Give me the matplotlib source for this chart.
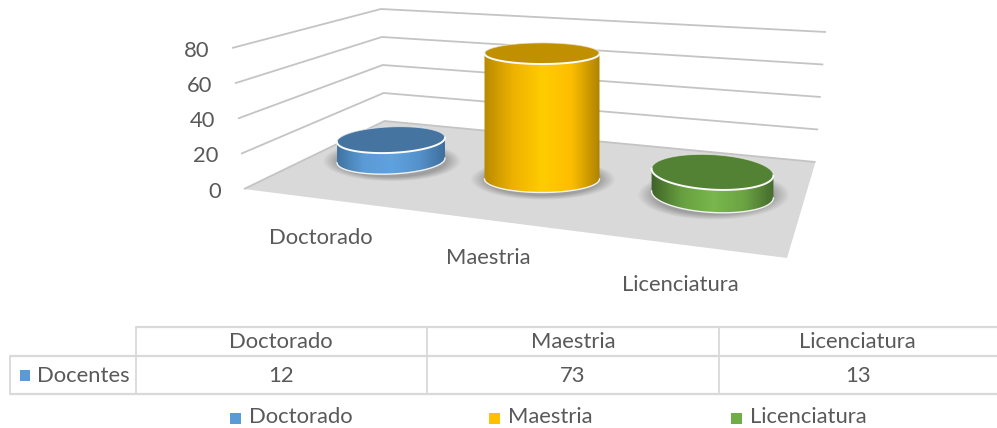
import numpy as np
import matplotlib
matplotlib.use("Agg")
import matplotlib.pyplot as plt
from matplotlib.patches import PathPatch, Polygon, Rectangle
from matplotlib.path import Path
from matplotlib.colors import LinearSegmentedColormap

categories = ["Doctorado", "Maestria", "Licenciatura"]
values = [12, 73, 13]
series_name = "Docentes"
y_ticks = [0, 20, 40, 60, 80]

FONT = "Lato"
FS = 15.8
TXT = "#595959"
GRID = "#c4c4c4"
LINE = "#d9d9d9"
PX_PER_UNIT = 1.72

# wall / floor corner positions (pixels) at value 0 and value 80
L0, L80 = np.array([244., 189.]), np.array([232., 48.])
B0, B80 = np.array([384.5, 121.]), np.array([381., 9.])
R0, R80 = np.array([815.5, 162.]), np.array([826., 32.])
FR = np.array([787., 258.])

# per-category drawing style: base centre x, y, half width, half depth, tilt in degrees
geom = [(391, 160.5, 54, 13.5, -2.5), (542, 179, 57.5, 13.5, 0.0), (712.5, 194.5, 61, 18, 3.3)]
side_cols = [["#3f71a0", "#5b9bd5", "#5fa2e0", "#5592cb", "#3c6c9a"],
             ["#b98a00", "#eeb200", "#ffcc00", "#fdbe00", "#ab8000"],
             ["#3e6228", "#68a040", "#78b84c", "#6ba343", "#42672a"]]
top_cols = ["#44749f", "#c09000", "#548235"]
swatch = ["#5b9bd5", "#ffc000", "#70ad47"]

fig = plt.figure(figsize=(9.97, 4.28), dpi=100)
ax = fig.add_axes([0, 0, 1, 1])
ax.set_xlim(0, 997)
ax.set_ylim(428, 0)
ax.axis("off")


def lerp(a, b, v):
    return a + (b - a) * v / 80.0


def arc(cx, cy, a, b, phi, t):
    c, s = np.cos(np.radians(phi)), np.sin(np.radians(phi))
    return np.c_[cx + a * np.cos(t) * c - b * np.sin(t) * s,
                 cy + a * np.cos(t) * s + b * np.sin(t) * c]


# floor
ax.add_patch(Polygon([L0, B0, R0, FR], closed=True, fc="#d9d9d9", ec="none", zorder=1))

# gridlines + tick labels
for v in y_ticks:
    pts = np.array([lerp(L0, L80, v), lerp(B0, B80, v), lerp(R0, R80, v)])
    ax.plot(pts[:, 0], pts[:, 1], color=GRID, lw=1.3, zorder=1.5, solid_capstyle="butt")
    ax.text(pts[0, 0] - 23, pts[0, 1] + 2.5, str(v), ha="right", va="center",
            fontsize=FS, family=FONT, color=TXT)

# cylinders
yy, xx = np.mgrid[0:428, 0:997]
for (cx, cy, a, b, phi), val, cols, tc in zip(geom, values, side_cols, top_cols):
    # soft contact shadow
    r = np.sqrt(((xx - cx) / (a + 15)) ** 2 + ((yy - cy) / (b + 7)) ** 2)
    alpha = np.clip((1.0 - r) / 0.22, 0, 1) * 0.5
    rgba = np.zeros((428, 997, 4))
    rgba[..., :3] = 0.4
    rgba[..., 3] = alpha
    ax.imshow(rgba, extent=(0, 997, 428, 0), zorder=2, aspect="auto", interpolation="bilinear")

    top_y = cy - val * PX_PER_UNIT
    top_b = b - val * 0.04
    front = np.linspace(0, np.pi, 90)
    back = np.linspace(np.pi, 2 * np.pi, 90)
    base_arc = arc(cx, cy, a, b, phi, front)
    top_back = arc(cx, top_y, a, top_b, phi, back)
    verts = np.vstack([base_arc, top_back, base_arc[:1]])
    body = Path(verts, closed=True)
    cmap = LinearSegmentedColormap.from_list("c", cols)
    grad = np.linspace(0, 1, 256)[None, :]
    im = ax.imshow(grad, cmap=cmap, extent=(cx - a - 1, cx + a + 1, cy + b + 4, top_y - b - 4),
                   aspect="auto", zorder=3)
    im.set_clip_path(PathPatch(body, transform=ax.transData))
    # rims
    ax.plot(base_arc[:, 0], base_arc[:, 1], color="#f2f2f2", lw=1.0, zorder=3.2)
    top_full = arc(cx, top_y, a, top_b, phi, np.linspace(0, 2 * np.pi, 180))
    ax.add_patch(Polygon(top_full, closed=True, fc=tc, ec="none", zorder=4))
    top_front = arc(cx, top_y, a, top_b, phi, front)
    ax.plot(top_front[:, 0], top_front[:, 1], color="#fbfbfb", lw=1.4, zorder=4.1)
    ax.plot(top_back[:, 0], top_back[:, 1], color="#f4f4f4", lw=0.7, alpha=0.7, zorder=4.1)

ax.set_xlim(0, 997)
ax.set_ylim(428, 0)

# category labels under the floor
for name, (tx, ty) in zip(categories, [(320.5, 238), (488.5, 258), (680, 285)]):
    ax.text(tx, ty, name, ha="center", va="center", fontsize=FS, family=FONT, color=TXT)

# data table
col_x = [135.5, 427, 718.5, 997]
top, mid, bot = 327, 356, 394
left = 10
for (x0, x1, y) in [(col_x[0], 997, top), (left, 997, mid), (left, 997, bot)]:
    ax.plot([x0, x1], [y, y], color=LINE, lw=1.6, zorder=1, solid_capstyle="butt")
ax.plot([left, left], [mid, bot], color=LINE, lw=1.3, zorder=1)
for x in col_x[:3]:
    ax.plot([x, x], [top, bot], color=LINE, lw=1.3, zorder=1)
for i, (name, val) in enumerate(zip(categories, values)):
    xc = (col_x[i] + col_x[i + 1]) / 2
    ax.text(xc, 342.5, name, ha="center", va="center", fontsize=FS, family=FONT, color=TXT)
    ax.text(xc, 375.5, str(val), ha="center", va="center", fontsize=FS, family=FONT, color=TXT)
ax.add_patch(Rectangle((20, 370), 10, 10.5, fc=swatch[0], ec="none"))
ax.text(37, 375.5, series_name, ha="left", va="center", fontsize=FS, family=FONT, color=TXT)

# legend
for name, col, mx in zip(categories, swatch, [230, 489, 731]):
    ax.add_patch(Rectangle((mx, 413), 11, 11, fc=col, ec="none"))
    ax.text(mx + 18.5, 423, name, ha="left", va="baseline", fontsize=FS, family=FONT, color=TXT)

fig.savefig("out.png", dpi=100)
